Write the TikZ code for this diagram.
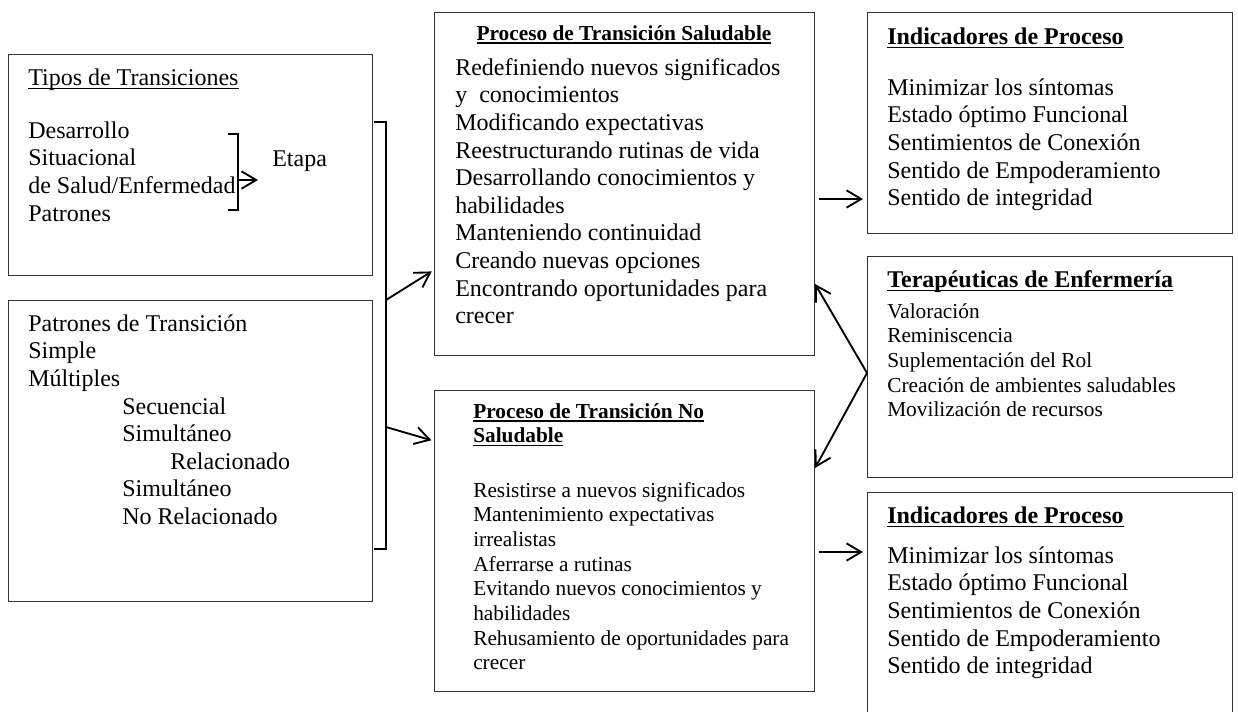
\documentclass[tikz,border=0pt]{standalone}
\usepackage{fontspec}
\setmainfont{Liberation Serif}
\usetikzlibrary{arrows.meta}
\newcommand\bigtxt{\fontsize{18pt}{20.7pt}\selectfont}
\newcommand\smalltxt{\fontsize{16pt}{18.5pt}\selectfont}
\newcommand\ulin[1]{\leavevmode\setbox0\hbox{#1}\rlap{\rule[-0.16em]{\wd0}{0.055em}}\box0}
\tikzset{
  box/.style={draw=black!80,line width=0.8pt,anchor=north west,inner sep=0pt},
  txt/.style={anchor=north west,inner sep=0pt,align=left,font=\bigtxt},
  stxt/.style={txt,font=\smalltxt},
  arr/.style={line width=1.4pt,-{Straight Barb[length=11pt,width=13pt]}},
  brk/.style={line width=1.3pt}
}
\begin{document}
\begin{tikzpicture}[x=0.75pt,y=-0.75pt]
  \useasboundingbox (0,0) rectangle (1238,711);
  \clip (0,0) rectangle (1238,711);
  \node[box,minimum width=273pt,minimum height=165.75pt] (tipos) at (8,54) {};
  \node[box,minimum width=273pt,minimum height=225.75pt] (pat) at (8,300) {};
  \node[box,minimum width=285pt,minimum height=257.25pt] (sal) at (434,12) {};
  \node[box,minimum width=285pt,minimum height=225.75pt] (nosal) at (434,390) {};
  \node[box,minimum width=273.75pt,minimum height=165.75pt] (ind1) at (867,12) {};
  \node[box,minimum width=273.75pt,minimum height=165.75pt] (ter) at (867,256) {};
  \node[box,minimum width=273.75pt,minimum height=180pt] (ind2) at (867,492) {};

  \node[txt] (tipost) at (28,65.7) {\strut\ulin{Tipos de Transiciones}};
  \node[txt] (tiposb) at (28,118.7) {\strut Desarrollo\\Situacional\\de Salud/Enfermedad\\Patrones};
  \node[txt] (etapa) at (272,146.7) {\strut Etapa};
  \node[txt] (patb) at (28,311.7) {\strut Patrones de Transición\\Simple\\Múltiples\\
    \hspace*{70.5pt}Secuencial\\\hspace*{70.5pt}Simultáneo\\\hspace*{106.5pt}Relacionado\\
    \hspace*{70.5pt}Simultáneo\\\hspace*{70.5pt}No Relacionado};

  \node[stxt,anchor=north,font=\smalltxt\bfseries] (salt) at (624,22.7) {\strut\ulin{Proceso de Transición Saludable}};
  \node[txt] (salb) at (455,55.7) {\strut Redefiniendo nuevos significados\\y~ conocimientos\\Modificando expectativas\\
    Reestructurando rutinas de vida\\Desarrollando conocimientos y\\habilidades\\Manteniendo continuidad\\
    Creando nuevas opciones\\Encontrando oportunidades para\\crecer};

  \node[stxt,font=\smalltxt\bfseries] (nosalt) at (473,400.7) {\strut\ulin{Proceso de Transición No}\\\ulin{Saludable}};
  \node[stxt] (nosalb) at (473,479.7) {\strut Resistirse a nuevos significados\\Mantenimiento expectativas\\irrealistas\\
    Aferrarse a rutinas\\Evitando nuevos conocimientos y\\habilidades\\Rehusamiento de oportunidades para\\crecer};

  \node[txt,font=\bigtxt\bfseries] (ind1t) at (887,24.7) {\strut\ulin{Indicadores de Proceso}};
  \node[txt] (ind1b) at (887,75.7) {\strut Minimizar los síntomas\\Estado óptimo Funcional\\Sentimientos de Conexión\\
    Sentido de Empoderamiento\\Sentido de integridad};

  \node[txt,font=\bigtxt\bfseries] (tert) at (887,267.7) {\strut\ulin{Terapéuticas de Enfermería}};
  \node[stxt] (terb) at (887,300.7) {\strut Valoración\\Reminiscencia\\Suplementación del Rol\\
    Creación de ambientes saludables\\Movilización de recursos};

  \node[txt,font=\bigtxt\bfseries] (ind2t) at (887,503.7) {\strut\ulin{Indicadores de Proceso}};
  \node[txt] (ind2b) at (887,543.7) {\strut Minimizar los síntomas\\Estado óptimo Funcional\\Sentimientos de Conexión\\
    Sentido de Empoderamiento\\Sentido de integridad};

  \draw[brk] (228,134) -- (238,134) -- (238,210) -- (228,210);
  \coordinate (sb) at (238,180);
  \draw[arr] (sb) -- ([xshift=-10.5pt]etapa.west |- sb);

  \draw[brk] (374,122) -- (386,122) -- (386,549) -- (374,549);
  \coordinate (bru) at (386,300);
  \coordinate (brl) at (386,427);
  \draw[arr,shorten >=2pt] (bru) -- (sal.west |- 0,270);
  \draw[arr,shorten >=2pt] (brl) -- (nosal.west |- 0,441);

  \draw[arr,shorten <=3pt,shorten >=3pt] (sal.east |- 0,199) -- (ind1.west |- 0,199);
  \draw[arr,shorten <=3pt,shorten >=3pt] (nosal.east |- 0,552) -- (ind2.west |- 0,552);
  \draw[arr] (ter.west |- 0,373) -- (sal.east |- 0,284);
  \draw[arr] (ter.west |- 0,373) -- (nosal.east |- 0,468);
\end{tikzpicture}
\end{document}
